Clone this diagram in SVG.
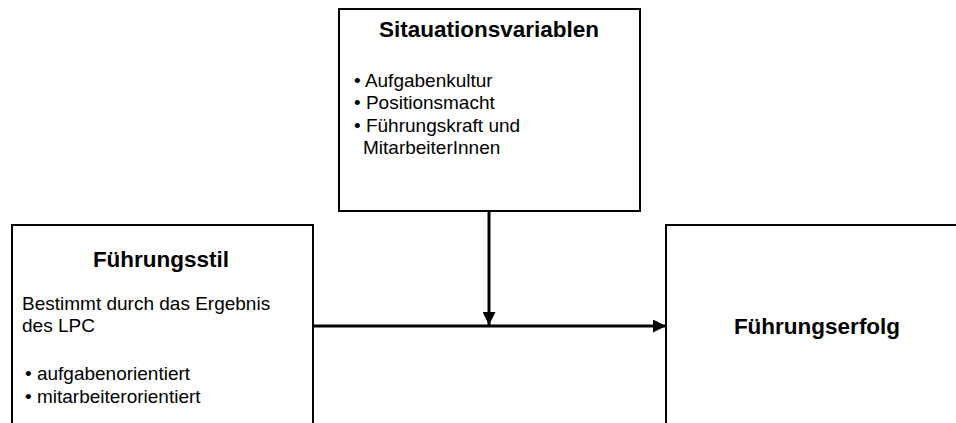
<svg xmlns="http://www.w3.org/2000/svg" width="956" height="423" viewBox="0 0 956 423">
<defs>
<style>
.box{fill:#fff;stroke:#000;stroke-width:2}
.t{font-family:"Liberation Sans",Arial,sans-serif;fill:#000}
.b{font-weight:bold;font-size:22.5px}
.r{font-size:19px}
.c{stroke:#000;stroke-width:3;fill:none}
</style>
<marker id="ah" markerUnits="userSpaceOnUse" markerWidth="14" markerHeight="13" refX="13" refY="6.5" orient="auto">
<path d="M0,0 L13,6.5 L0,13 Z" fill="#000"/>
</marker>
</defs>
<rect width="956" height="423" fill="#fff"/>
<g id="situation">
<rect class="box" x="339" y="9" width="301" height="202"/>
<text class="t b" x="489" y="37" text-anchor="middle">Sitauationsvariablen</text>
<text class="t r" x="354" y="87">• Aufgabenkultur</text>
<text class="t r" x="354" y="109">• Positionsmacht</text>
<text class="t r" x="354" y="132">• Führungskraft und</text>
<text class="t r" x="363" y="154">MitarbeiterInnen</text>
</g>
<g id="fuehrungsstil">
<rect class="box" x="12" y="225" width="301" height="210"/>
<text class="t b" x="161" y="267" text-anchor="middle">Führungsstil</text>
<text class="t r" x="22" y="310">Bestimmt durch das Ergebnis</text>
<text class="t r" x="22" y="332">des LPC</text>
<text class="t r" x="25" y="380">• aufgabenorientiert</text>
<text class="t r" x="25" y="403">• mitarbeiterorientiert</text>
</g>
<g id="fuehrungserfolg">
<rect class="box" x="666" y="225" width="300" height="210"/>
<text class="t b" x="817" y="334" text-anchor="middle">Führungserfolg</text>
</g>
<g id="connectors">
<line class="c" x1="489" y1="212" x2="489" y2="325" marker-end="url(#ah)"/>
<line class="c" x1="313" y1="326" x2="666" y2="326" marker-end="url(#ah)"/>
</g>
</svg>
